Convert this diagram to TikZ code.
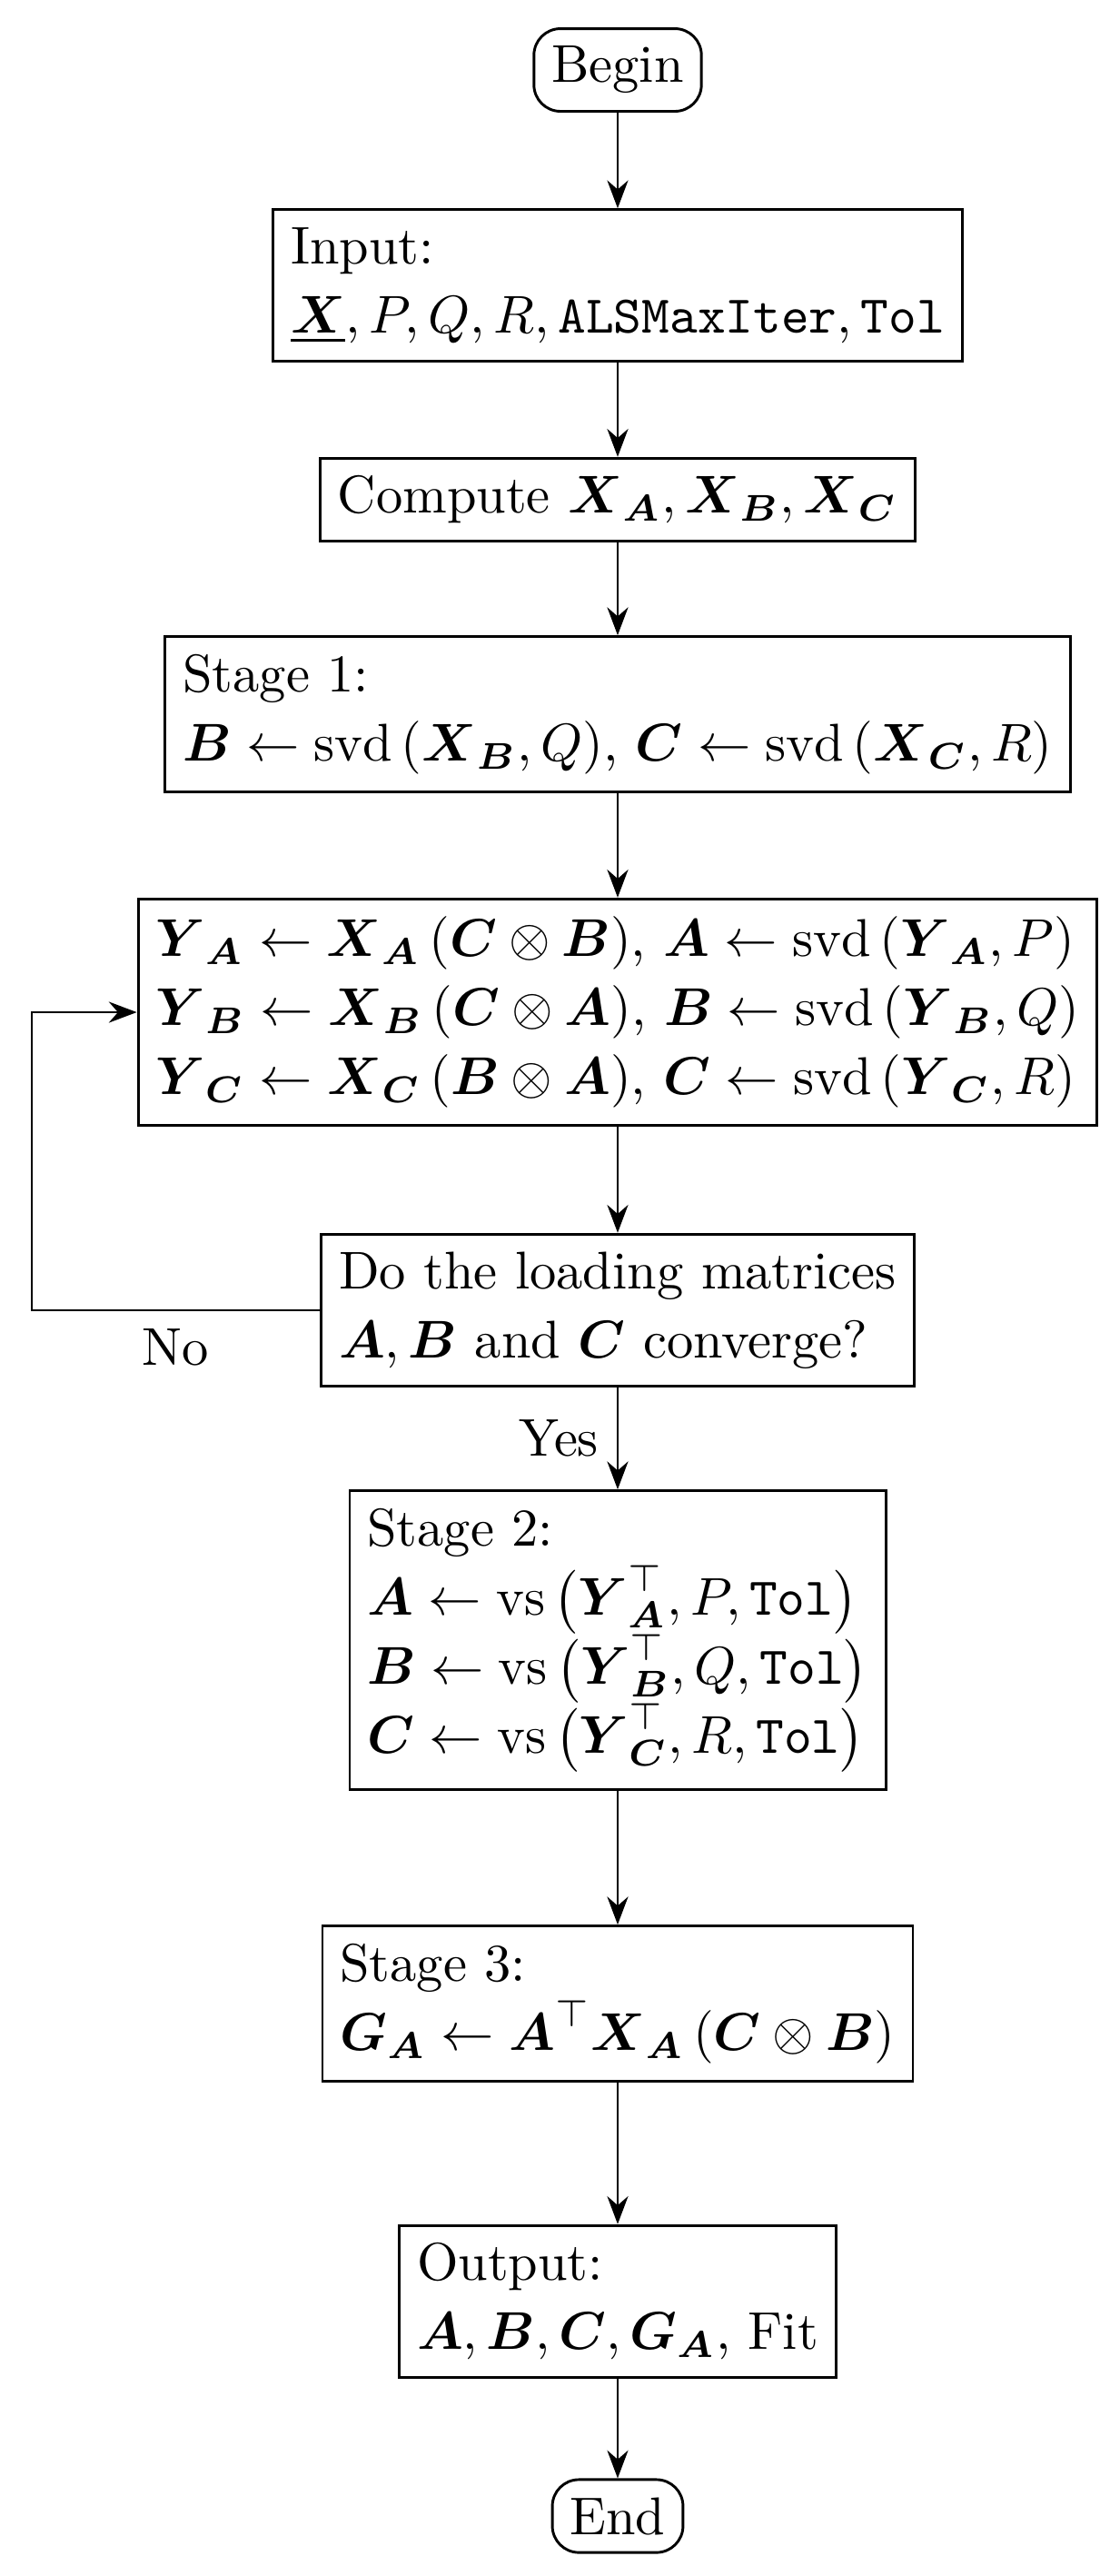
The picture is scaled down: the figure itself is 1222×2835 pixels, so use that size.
\documentclass[tikz,border=0pt]{standalone}
\usepackage{amsmath}
\usetikzlibrary{arrows.meta}
\newcommand\BA{\boldsymbol{A}}
\newcommand\BB{\boldsymbol{B}}
\newcommand\BC{\boldsymbol{C}}
\newcommand\BX{\boldsymbol{X}}
\newcommand\BY{\boldsymbol{Y}}
\newcommand\BG{\boldsymbol{G}}
\begin{document}
\begin{tikzpicture}[x=0.17094pt,y=-0.17094pt,
  every node/.style={font=\fontsize{10}{13}\selectfont},
  box/.style={draw, line width=0.5pt, align=left, inner sep=3.33pt},
  term/.style={draw, line width=0.5pt, rounded corners=5pt, inner sep=3.33pt},
  conn/.style={-{Stealth}, line width=0.5pt}]
\useasboundingbox (0,0) rectangle (1222,2835);
\node[term] (begin) at (680,77) {Begin};
\node[box] (input) at (680,314) {Input:\\ $\underline{\BX}, P, Q, R, \texttt{ALSMaxIter}, \texttt{Tol}$};
\node[box] (comp) at (680,550) {Compute $\BX_{\BA}, \BX_{\BB}, \BX_{\BC}$};
\node[box] (s1) at (680,786) {Stage 1:\\ $\BB \leftarrow \mathrm{svd}\left(\BX_{\BB}, Q\right)$, $\BC \leftarrow \mathrm{svd}\left(\BX_{\BC}, R\right)$};
\node[box] (loop) at (680,1114) {$\BY_{\BA} \leftarrow \BX_{\BA}\left(\BC \otimes \BB\right)$, $\BA \leftarrow \mathrm{svd}\left(\BY_{\BA}, P\right)$\\
$\BY_{\BB} \leftarrow \BX_{\BB}\left(\BC \otimes \BA\right)$, $\BB \leftarrow \mathrm{svd}\left(\BY_{\BB}, Q\right)$\\
$\BY_{\BC} \leftarrow \BX_{\BC}\left(\BB \otimes \BA\right)$, $\BC \leftarrow \mathrm{svd}\left(\BY_{\BC}, R\right)$};
\node[box] (dec) at (680,1442) {Do the loading matrices\\ $\BA, \BB$ and $\BC$ converge?};
\node[box] (s2) at (680,1805) {Stage 2:\\
$\BA \leftarrow \mathrm{vs}\,\bigl(\BY_{\BA}^{\top}, P, \texttt{Tol}\bigr)$\\
$\BB \leftarrow \mathrm{vs}\,\bigl(\BY_{\BB}^{\top}, Q, \texttt{Tol}\bigr)$\\
$\BC \leftarrow \mathrm{vs}\,\bigl(\BY_{\BC}^{\top}, R, \texttt{Tol}\bigr)$};
\node[box] (s3) at (680,2205) {Stage 3:\\ $\BG_{\BA} \leftarrow \BA^{\top}\BX_{\BA}\left(\BC \otimes \BB\right)$};
\node[box] (out) at (680,2533) {Output:\\ $\BA, \BB, \BC, \BG_{\BA}$, Fit};
\node[term] (end) at (680,2769) {End};
\coordinate (lc) at (35,1442);
\draw[conn] (begin) -- (input);
\draw[conn] (input) -- (comp);
\draw[conn] (comp) -- (s1);
\draw[conn] (s1) -- (loop);
\draw[conn] (loop) -- (dec);
\draw[conn] (dec) -- node[left] {Yes} (s2);
\draw[conn] (dec.west) -- node[below] {No} (dec.west -| lc) |- (loop.west);
\draw[conn] (s2) -- (s3);
\draw[conn] (s3) -- (out);
\draw[conn] (out) -- (end);
\end{tikzpicture}
\end{document}
